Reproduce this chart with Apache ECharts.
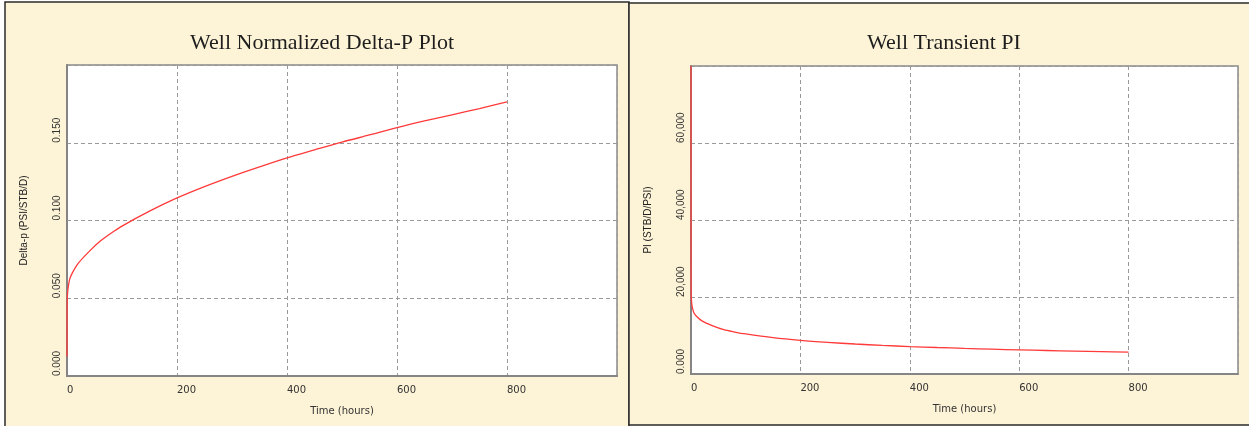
<!DOCTYPE html>
<html>
<head>
<meta charset="utf-8">
<script src="https://cdn.jsdelivr.net/npm/echarts@6/dist/echarts.min.js"></script>
<style>
  html, body { margin: 0; padding: 0; background: #ffffff; }
  #chart { width: 1249px; height: 426px; }
</style>
</head>
<body>
<div id="chart"></div>
<script>
// Normalized delta-p vs time: [hours, PSI/STB/D]
const deltaP = [
  [0, 0.0125], [0.05, 0.030], [0.2, 0.045], [0.5, 0.050], [1, 0.053],
  [2, 0.0567], [5, 0.0625], [10, 0.0665], [20, 0.0723], [40, 0.080],
  [60, 0.0866], [80, 0.0918], [100, 0.0964], [150, 0.106], [200, 0.1145],
  [250, 0.1218], [300, 0.1284], [350, 0.1345], [400, 0.1403], [450, 0.1454],
  [500, 0.1504], [550, 0.155], [600, 0.1597], [650, 0.164], [700, 0.168],
  [750, 0.172], [800, 0.1763]
];

// Transient productivity index vs time: [hours, STB/D/PSI]
const transientPI = [
  [0, 80], [0.05, 33], [0.2, 22], [0.5, 20], [1, 18.9],
  [2, 17.6], [5, 16.0], [10, 15.0], [20, 13.8], [40, 12.5],
  [60, 11.5], [80, 10.9], [100, 10.4], [150, 9.43], [200, 8.73],
  [250, 8.21], [300, 7.79], [350, 7.43], [400, 7.13], [450, 6.88],
  [500, 6.65], [550, 6.45], [600, 6.26], [650, 6.10], [700, 5.95],
  [750, 5.81], [800, 5.67]
];

const timeTicks = [0, 200, 400, 600, 800];
const deltaPTicks = ['0.000', '0.050', '0.100', '0.150'];
const piTicks = ['0.000', '20,000', '40,000', '60,000'];

const titles = ['Well Normalized Delta-P Plot', 'Well Transient PI'];
const yNames = ['Delta-p (PSI/STB/D)', 'PI (STB/D/PSI)'];
const xName = 'Time (hours)';

const cream = '#fdf3d6';
const lineRed = '#ff3a3a';
const gridGray = '#9a9a9a';

function xAxisFor(i) {
  return {
    type: 'value', gridIndex: i, min: 0, max: 1000, interval: 200,
    name: xName, nameLocation: 'middle', nameGap: 30,
    nameTextStyle: { fontFamily: 'DejaVu Sans', fontSize: 10, color: '#333' },
    axisLine: { show: true, lineStyle: { color: '#858585', width: 2 } },
    axisTick: { show: false },
    axisLabel: {
      showMaxLabel: false, margin: 9, align: 'left',
      fontFamily: 'DejaVu Sans', fontSize: 10, color: '#333',
      formatter: v => timeTicks.indexOf(v) >= 0 ? String(v) : ''
    },
    splitLine: { show: true, lineStyle: { color: gridGray, type: [4, 3], width: 1 } }
  };
}

function yAxisFor(i, max, interval, labels) {
  return {
    type: 'value', gridIndex: i, min: 0, max: max, interval: interval,
    name: yNames[i], nameLocation: 'middle', nameGap: 38, nameRotate: 90,
    nameTextStyle: { fontFamily: 'Liberation Sans Narrow, Liberation Sans', fontSize: 10, color: '#222' },
    axisLine: { show: true, lineStyle: { color: '#858585', width: 2 } },
    axisTick: { show: false },
    axisLabel: {
      showMaxLabel: false, rotate: 90, margin: 10, align: 'left', verticalAlign: 'middle',
      fontFamily: 'Liberation Sans Narrow, Liberation Sans', fontSize: 10, color: '#333',
      formatter: v => {
        const k = Math.round(v / interval);
        return labels[k] !== undefined ? labels[k] : '';
      }
    },
    splitLine: { show: true, lineStyle: { color: gridGray, type: [4, 3], width: 1 } }
  };
}

const chart = echarts.init(document.getElementById('chart'), null, { renderer: 'canvas' });

chart.setOption({
  animation: false,
  backgroundColor: '#ffffff',
  graphic: [
    { type: 'rect', z: -10, shape: { x: 5, y: 2, width: 624, height: 430 },
      style: { fill: cream, stroke: '#2b2b2b', lineWidth: 1.5 } },
    { type: 'rect', z: -10, shape: { x: 629, y: 3, width: 630, height: 422 },
      style: { fill: cream, stroke: '#2b2b2b', lineWidth: 1.5 } }
  ],
  title: [
    { text: titles[0], left: 317, top: 27, textAlign: 'center',
      textStyle: { fontFamily: 'Liberation Serif', fontSize: 22, fontWeight: 'normal', color: '#1e1e1e' } },
    { text: titles[1], left: 939, top: 27, textAlign: 'center',
      textStyle: { fontFamily: 'Liberation Serif', fontSize: 22, fontWeight: 'normal', color: '#1e1e1e' } }
  ],
  grid: [
    { left: 67, top: 65, width: 550, height: 311, show: true,
      backgroundColor: '#ffffff', borderColor: '#8a8a8a', borderWidth: 1.5 },
    { left: 691, top: 66, width: 547, height: 308, show: true,
      backgroundColor: '#ffffff', borderColor: '#8a8a8a', borderWidth: 1.5 }
  ],
  xAxis: [xAxisFor(0), xAxisFor(1)],
  yAxis: [
    yAxisFor(0, 0.2, 0.05, deltaPTicks),
    yAxisFor(1, 80, 20, piTicks)
  ],
  series: [
    { type: 'line', xAxisIndex: 0, yAxisIndex: 0, data: deltaP, smooth: 0.3,
      showSymbol: false, clip: true, lineStyle: { color: lineRed, width: 1.3 } },
    { type: 'line', xAxisIndex: 1, yAxisIndex: 1, data: transientPI, smooth: 0.3,
      showSymbol: false, clip: true, lineStyle: { color: lineRed, width: 1.3 } }
  ]
});
</script>
</body>
</html>
